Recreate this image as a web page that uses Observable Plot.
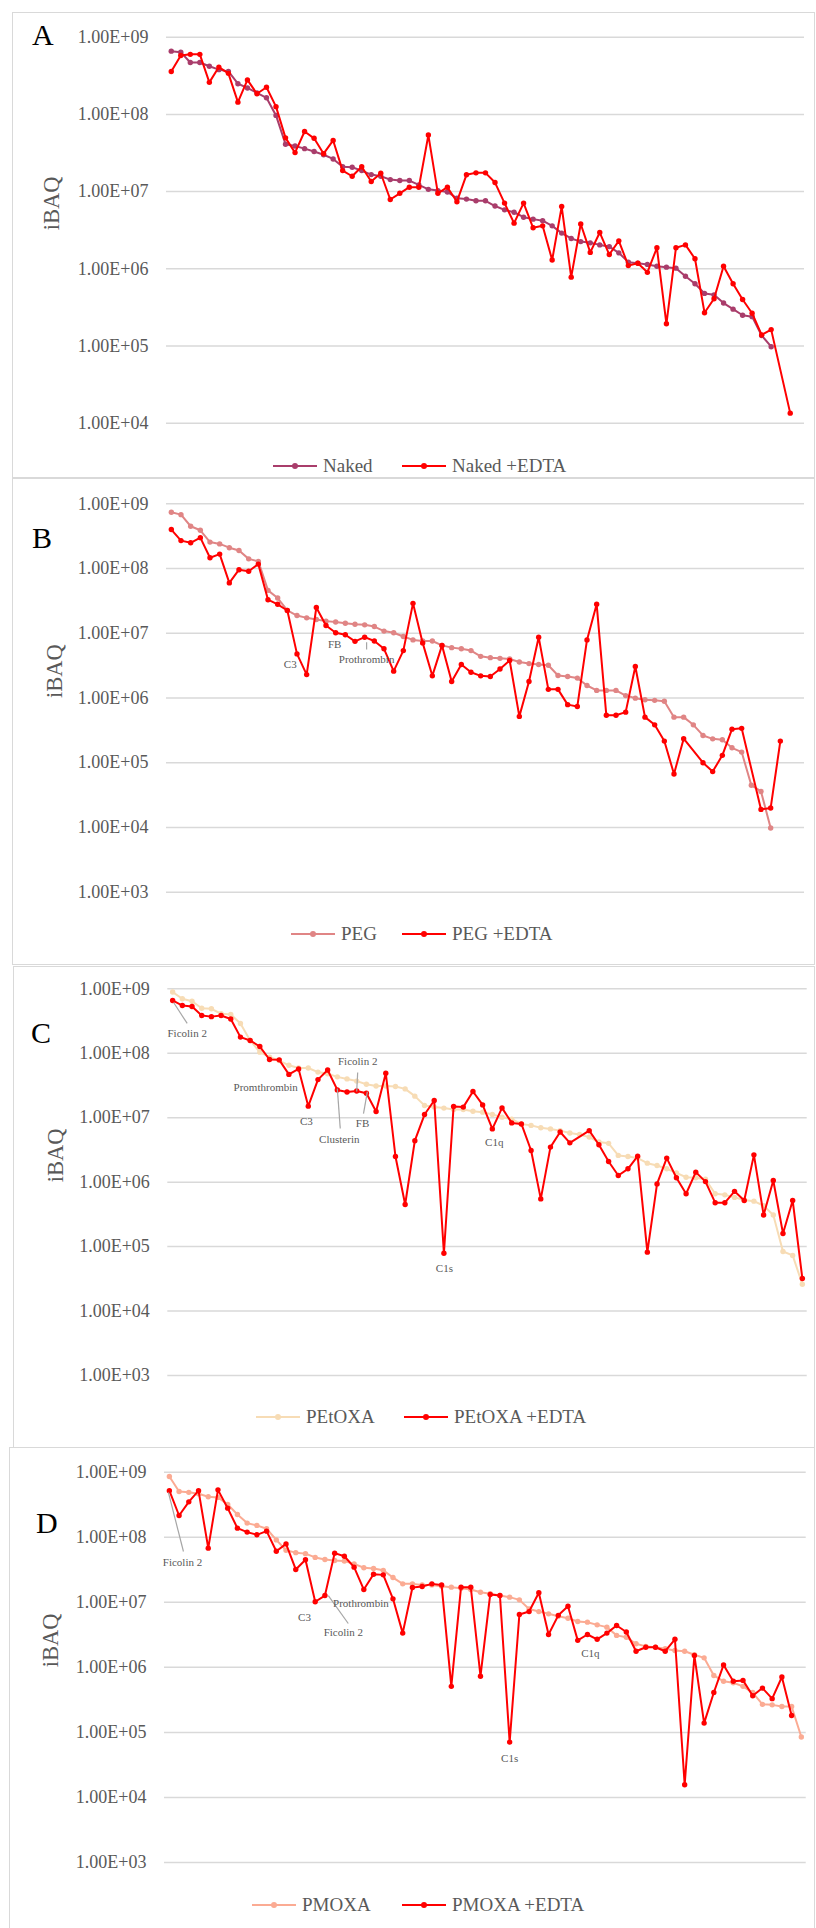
<!DOCTYPE html>
<html>
<head>
<meta charset="utf-8">
<script src="https://cdn.jsdelivr.net/npm/d3@7"></script>
<script src="https://cdn.jsdelivr.net/npm/@observablehq/plot@0.6"></script>
<style>
  html, body { margin: 0; padding: 0; background: #fff; }
  #page { position: relative; width: 816px; height: 1928px; overflow: hidden;
          font-family: "Liberation Serif", "DejaVu Serif", serif; }
  .box { position: absolute; border: 1.5px solid #d9d9d9; box-sizing: border-box; }
  .chart { position: absolute; left: 0; }
  .letter { position: absolute; font-size: 30px; line-height: 30px; color: #000; }
  .key { position: absolute; display: flex; align-items: center; height: 20px;
         font-size: 19px; color: #595959; white-space: nowrap; }
  .key svg { margin-right: 6px; }
</style>
</head>
<body>
<div id="page"></div>
<script>
// iBAQ intensities of the plasma proteins, ranked by abundance (index = rank).
// null = protein not detected in that sample.
const nakedIBAQ = [6.6e8, 6.4e8, 4.7e8, 4.7e8, 4.2e8, 3.8e8, 3.6e8, 2.5e8, 2.2e8, 1.9e8,
  1.64e8, 9.7e7, 4.1e7, 3.9e7, 3.6e7, 3.3e7, 3.0e7, 2.65e7, 2.1e7, 2.07e7,
  1.87e7, 1.66e7, 1.58e7, 1.43e7, 1.39e7, 1.39e7, 1.22e7, 1.07e7, 1.03e7, 9.9e6,
  8.2e6, 8.0e6, 7.6e6, 7.6e6, 6.5e6, 5.8e6, 5.4e6, 4.66e6, 4.4e6, 4.2e6,
  3.6e6, 2.9e6, 2.47e6, 2.25e6, 2.17e6, 2.04e6, 1.94e6, 1.61e6, 1.22e6, 1.18e6,
  1.14e6, 1.08e6, 1.05e6, 1.02e6, 8.0e5, 6.4e5, 4.8e5, 4.6e5, 3.6e5, 3.0e5,
  2.5e5, 2.4e5, 1.37e5, 9.8e4];
const nakedEdtaIBAQ = [3.6e8, 5.8e8, 6.0e8, 6.0e8, 2.6e8, 4.1e8, 3.4e8, 1.44e8, 2.8e8, 1.85e8,
  2.25e8, 1.26e8, 4.97e7, 3.2e7, 6.0e7, 4.9e7, 3.1e7, 4.6e7, 1.87e7, 1.58e7,
  2.1e7, 1.35e7, 1.73e7, 7.9e6, 9.5e6, 1.14e7, 1.14e7, 5.4e7, 9.5e6, 1.14e7,
  7.4e6, 1.65e7, 1.75e7, 1.75e7, 1.31e7, 7.1e6, 3.9e6, 7.1e6, 3.4e6, 3.6e6,
  1.3e6, 6.4e6, 7.8e5, 3.8e6, 1.63e6, 2.95e6, 1.53e6, 2.3e6, 1.1e6, 1.18e6,
  9.0e5, 1.87e6, 1.94e5, 1.87e6, 2.04e6, 1.35e6, 2.7e5, 4.1e5, 1.08e6, 6.4e5,
  4.0e5, 2.66e5, 1.39e5, 1.63e5, null, 1.35e4];

const pegIBAQ = [7.4e8, 6.8e8, 4.5e8, 3.9e8, 2.56e8, 2.4e8, 2.1e8, 1.9e8, 1.41e8, 1.29e8,
  4.6e7, 3.5e7, 2.25e7, 1.88e7, 1.73e7, 1.63e7, 1.54e7, 1.49e7, 1.43e7, 1.38e7,
  1.35e7, 1.27e7, 1.08e7, 1.02e7, 8.9e6, 7.9e6, 7.6e6, 7.6e6, 6.5e6, 6.0e6,
  5.75e6, 5.4e6, 4.4e6, 4.2e6, 4.1e6, 4.0e6, 3.6e6, 3.4e6, 3.3e6, 3.2e6,
  2.23e6, 2.15e6, 2.03e6, 1.56e6, 1.31e6, 1.31e6, 1.31e6, 1.09e6, 9.95e5, 9.4e5,
  9.2e5, 8.9e5, 5.06e5, 5.06e5, 3.85e5, 2.64e5, 2.34e5, 2.26e5, 1.7e5, 1.46e5,
  4.5e4, 3.6e4, 9.8e3];
const pegEdtaIBAQ = [4.0e8, 2.7e8, 2.5e8, 3.0e8, 1.47e8, 1.67e8, 6.0e7, 9.6e7, 9.1e7, 1.17e8,
  3.3e7, 2.8e7, 2.25e7, 4.8e6, 2.3e6, 2.5e7, 1.32e7, 1.02e7, 9.5e6, 7.5e6,
  8.7e6, 7.6e6, 5.75e6, 2.6e6, 5.4e6, 2.9e7, 7.1e6, 2.2e6, 6.5e6, 1.8e6,
  3.3e6, 2.5e6, 2.2e6, 2.15e6, 2.8e6, 3.8e6, 5.2e5, 1.8e6, 8.7e6, 1.36e6,
  1.36e6, 7.9e5, 7.4e5, 7.9e6, 2.8e7, 5.4e5, 5.4e5, 6.05e5, 3.07e6, 5.06e5,
  3.85e5, 2.16e5, 6.7e4, 2.35e5, null, 1.0e5, 7.3e4, 1.3e5, 3.3e5, 3.4e5,
  null, 1.9e4, 2.0e4, 2.16e5];

const petoxaIBAQ = [8.9e8, 7.0e8, 6.4e8, 5.0e8, 4.9e8, 4.1e8, 4.0e8, 2.9e8, 1.58e8, 1.04e8,
  8.7e7, 7.7e7, 6.5e7, 5.9e7, 5.9e7, 5.1e7, 4.8e7, 4.3e7, 4.0e7, 3.7e7,
  3.3e7, 3.1e7, 3.1e7, 3.05e7, 2.8e7, 2.16e7, 1.55e7, 1.46e7, 1.41e7, 1.34e7,
  1.34e7, 1.26e7, 1.22e7, 1.12e7, 1.02e7, 9.5e6, 8.0e6, 7.6e6, 7.0e6, 6.7e6,
  6.3e6, 5.8e6, 5.5e6, 5.0e6, 4.2e6, 4.0e6, 2.6e6, 2.5e6, 2.36e6, 1.97e6,
  1.81e6, 1.61e6, 1.39e6, 1.19e6, 1.17e6, 1.11e6, 6.6e5, 6.35e5, 5.8e5, 5.3e5,
  5.07e5, 4.3e5, 3.1e5, 8.4e4, 7.3e4, 2.6e4];
const petoxaEdtaIBAQ = [6.6e8, 5.5e8, 5.3e8, 3.85e8, 3.7e8, 3.85e8, 3.4e8, 1.78e8, 1.58e8, 1.27e8,
  8.0e7, 7.9e7, 4.7e7, 5.7e7, 1.51e7, 3.9e7, 5.5e7, 2.7e7, 2.5e7, 2.6e7,
  2.4e7, 1.25e7, 4.9e7, 2.5e6, 4.5e5, 4.4e6, 1.12e7, 1.85e7, 7.9e4, 1.49e7,
  1.46e7, 2.55e7, 1.58e7, 6.7e6, 1.42e7, 8.3e6, 8.0e6, 3.1e6, 5.5e5, 3.5e6,
  6.0e6, 4.07e6, null, 6.3e6, 3.8e6, 2.09e6, 1.27e6, 1.61e6, 2.53e6, 8.2e4,
  9.4e5, 2.36e6, 1.17e6, 6.6e5, 1.43e6, 1.02e6, 4.8e5, 4.8e5, 7.2e5, 5.2e5,
  2.65e6, 3.1e5, 1.06e6, 1.6e5, 5.2e5, 3.2e4];

const pmoxaIBAQ = [8.6e8, 5.05e8, 4.9e8, 4.65e8, 4.2e8, 4.1e8, 3.2e8, 2.24e8, 1.65e8, 1.52e8,
  1.35e8, 9.1e7, 6.3e7, 5.8e7, 5.6e7, 4.9e7, 4.55e7, 4.4e7, 4.3e7, 3.9e7,
  3.4e7, 3.3e7, 3.1e7, 2.4e7, 1.92e7, 1.92e7, 1.85e7, 1.85e7, 1.77e7, 1.71e7,
  1.65e7, 1.57e7, 1.43e7, 1.35e7, 1.27e7, 1.2e7, 1.09e7, 7.9e6, 7.2e6, 6.65e6,
  6.1e6, 5.7e6, 5.07e6, 4.95e6, 4.5e6, 4.15e6, 3.1e6, 2.9e6, 2.3e6, 2.1e6,
  2.04e6, 1.93e6, 1.82e6, 1.77e6, 1.56e6, 1.4e6, 7.5e5, 6.1e5, 5.8e5, 5.1e5,
  4.1e5, 2.7e5, 2.65e5, 2.5e5, 2.5e5, 8.5e4];
const pmoxaEdtaIBAQ = [5.2e8, 2.16e8, 3.5e8, 5.2e8, 6.8e7, 5.35e8, 2.8e8, 1.38e8, 1.2e8, 1.09e8,
  1.24e8, 6.1e7, 7.9e7, 3.2e7, 4.5e7, 1.02e7, 1.27e7, 5.7e7, 5.1e7, 3.47e7,
  1.57e7, 2.7e7, 2.64e7, 1.13e7, 3.36e6, 1.69e7, 1.75e7, 1.92e7, 1.85e7, 5.1e5,
  1.71e7, 1.71e7, 7.3e5, 1.32e7, 1.27e7, 7.1e4, 6.5e6, 7.2e6, 1.4e7, 3.2e6,
  6.3e6, 8.7e6, 2.6e6, 3.2e6, 2.7e6, 3.36e6, 4.4e6, 3.5e6, 1.77e6, 2.04e6,
  2.04e6, 1.77e6, 2.7e6, 1.57e4, 1.52e6, 1.39e5, 4.1e5, 1.09e6, 6.1e5, 6.3e5,
  3.65e5, 4.8e5, 3.3e5, 7.1e5, 1.82e5];

// Y-axis tick values (log scale)
const ticksA = [1e4, 1e5, 1e6, 1e7, 1e8, 1e9];
const ticksBCD = [1e3, 1e4, 1e5, 1e6, 1e7, 1e8, 1e9];

// Protein call-outs: label placed at (rank, iBAQ)
const notesB = [
  {label: "C3", rank: 12.3, iBAQ: 3.29e6},
  {label: "FB", rank: 16.9, iBAQ: 6.7e6},
  {label: "Prothrombin", rank: 20.2, iBAQ: 3.94e6}
];
const leadersB = [
  {r1: 20.2, v1: 7.28e6, r2: 20.2, v2: 5.62e6}
];
const notesC = [
  {label: "Ficolin 2", rank: 1.5, iBAQ: 2.02e8},
  {label: "Promthrombin", rank: 9.6, iBAQ: 2.94e7},
  {label: "C3", rank: 13.8, iBAQ: 8.73e6},
  {label: "Clusterin", rank: 17.2, iBAQ: 4.59e6},
  {label: "Ficolin 2", rank: 19.1, iBAQ: 7.45e7},
  {label: "FB", rank: 19.6, iBAQ: 8.11e6},
  {label: "C1s", rank: 28.05, iBAQ: 4.57e4},
  {label: "C1q", rank: 33.2, iBAQ: 4.12e6}
];
const leadersC = [
  {r1: 0.1, v1: 6.12e8, r2: 1.5, v2: 2.9e8},
  {r1: 17.0, v1: 2.83e7, r2: 17.3, v2: 6.79e6},
  {r1: 19.1, v1: 5.02e7, r2: 19.0, v2: 2.55e7},
  {r1: 20.1, v1: 2.54e7, r2: 19.7, v2: 1.16e7}
];
const notesD = [
  {label: "Ficolin 2", rank: 1.35, iBAQ: 4.09e7},
  {label: "C3", rank: 13.9, iBAQ: 5.83e6},
  {label: "Prothrombin", rank: 19.7, iBAQ: 9.59e6},
  {label: "Ficolin 2", rank: 17.9, iBAQ: 3.44e6},
  {label: "C1s", rank: 35.0, iBAQ: 3.97e4},
  {label: "C1q", rank: 43.3, iBAQ: 1.63e6}
];
const leadersD = [
  {r1: -0.1, v1: 4.88e8, r2: 1.45, v2: 6.04e7},
  {r1: 16.35, v1: 1.27e7, r2: 18.4, v2: 4.72e6}
];

// ---- layout & styling of the four stacked panels ----
const RED = "#ff0000";
const panels = [
  {letter: "A", base: nakedIBAQ, edta: nakedEdtaIBAQ, baseName: "Naked", edtaName: "Naked +EDTA",
   color: "#a93d6b", ticks: ticksA, n: 67, notes: [], leaders: [],
   top: 0, height: 478, mt: 36.7, mb: 55.3, ml: 166, mr: 12, labelDx: -114.5,
   box: {top: 12, height: 466, left: 12}, letterPos: {left: 32, top: 20},
   key: {y: 466, x1: 273, x2: 402}},
  {letter: "B", base: pegIBAQ, edta: pegEdtaIBAQ, baseName: "PEG", edtaName: "PEG +EDTA",
   color: "#e08585", ticks: ticksBCD, n: 66, notes: notesB, leaders: leadersB,
   top: 478, height: 488, mt: 25.3, mb: 74.3, ml: 166, mr: 12, labelDx: -112,
   box: {top: 478, height: 487, left: 12}, letterPos: {left: 32, top: 523},
   key: {y: 934, x1: 291, x2: 402}},
  {letter: "C", base: petoxaIBAQ, edta: petoxaEdtaIBAQ, baseName: "PEtOXA", edtaName: "PEtOXA +EDTA",
   color: "#f7dcb5", ticks: ticksBCD, n: 66, notes: notesC, leaders: leadersC,
   top: 966, height: 482, mt: 22.3, mb: 73, ml: 167.3, mr: 9.3, labelDx: -112.3,
   box: {top: 966, height: 482, left: 13}, letterPos: {left: 31, top: 1018},
   key: {y: 1417, x1: 256, x2: 404}},
  {letter: "D", base: pmoxaIBAQ, edta: pmoxaEdtaIBAQ, baseName: "PMOXA", edtaName: "PMOXA +EDTA",
   color: "#fbab93", ticks: ticksBCD, n: 66, notes: notesD, leaders: leadersD,
   top: 1448, height: 480, mt: 23.7, mb: 66, ml: 164, mr: 10.3, labelDx: -114,
   box: {top: 1447, height: 490, left: 9}, letterPos: {left: 36, top: 1508},
   key: {y: 1905, x1: 252, x2: 402}}
];

const page = document.getElementById("page");
const sci = d => `1.00E+${String(Math.round(Math.log10(d))).padStart(2, "0")}`;
const ranked = arr => arr.map((v, i) => ({rank: i, iBAQ: v})).filter(d => d.iBAQ != null);

function swatch(color) {
  const ns = "http://www.w3.org/2000/svg";
  const svg = document.createElementNS(ns, "svg");
  svg.setAttribute("width", 44); svg.setAttribute("height", 10);
  const l = document.createElementNS(ns, "line");
  l.setAttribute("x1", 0); l.setAttribute("x2", 44); l.setAttribute("y1", 5); l.setAttribute("y2", 5);
  l.setAttribute("stroke", color); l.setAttribute("stroke-width", 2);
  const c = document.createElementNS(ns, "circle");
  c.setAttribute("cx", 22); c.setAttribute("cy", 5); c.setAttribute("r", 3); c.setAttribute("fill", color);
  svg.append(l, c);
  return svg;
}

for (const p of panels) {
  const box = document.createElement("div");
  box.className = "box";
  Object.assign(box.style, {left: p.box.left + "px", top: p.box.top + "px",
    width: (815 - p.box.left) + "px", height: p.box.height + "px"});
  page.append(box);

  const base = ranked(p.base), edta = ranked(p.edta);
  const chart = Plot.plot({
    width: 816, height: p.height,
    marginTop: p.mt, marginBottom: p.mb, marginLeft: p.ml, marginRight: p.mr,
    style: {fontFamily: '"Liberation Serif", "DejaVu Serif", serif', fontSize: "18px",
            color: "#595959", background: "transparent", overflow: "visible"},
    x: {type: "linear", domain: [-0.5, p.n - 0.5], axis: null},
    y: {type: "log", domain: [p.ticks[0], p.ticks[p.ticks.length - 1]], axis: null},
    marks: [
      Plot.gridY(p.ticks, {stroke: "#d9d9d9", strokeOpacity: 1, strokeWidth: 1.5}),
      Plot.axisY(p.ticks, {tickSize: 0, tickPadding: 18, tickFormat: sci, label: null,
                           fontSize: 18, fill: "#595959"}),
      Plot.text(["iBAQ"], {frameAnchor: "left", dx: p.labelDx, rotate: -90,
                           fontSize: 22.5, fill: "#595959"}),
      Plot.line(base, {x: "rank", y: "iBAQ", stroke: p.color, strokeWidth: 2}),
      Plot.dot(base, {x: "rank", y: "iBAQ", r: 2.7, fill: p.color}),
      Plot.line(edta, {x: "rank", y: "iBAQ", stroke: RED, strokeWidth: 2}),
      Plot.dot(edta, {x: "rank", y: "iBAQ", r: 2.7, fill: RED}),
      Plot.link(p.leaders, {x1: "r1", y1: "v1", x2: "r2", y2: "v2",
                            stroke: "#a6a6a6", strokeWidth: 1.2}),
      Plot.text(p.notes, {x: "rank", y: "iBAQ", text: "label", fontSize: 11, fill: "#595959"})
    ]
  });
  chart.classList.add("chart");
  chart.style.top = p.top + "px";
  page.append(chart);

  const letter = document.createElement("div");
  letter.className = "letter";
  letter.textContent = p.letter;
  letter.style.left = p.letterPos.left + "px";
  letter.style.top = p.letterPos.top + "px";
  page.append(letter);

  [[p.key.x1, p.color, p.baseName], [p.key.x2, RED, p.edtaName]].forEach(([x, color, name]) => {
    const key = document.createElement("div");
    key.className = "key";
    key.style.left = x + "px";
    key.style.top = (p.key.y - 10) + "px";
    key.append(swatch(color), document.createTextNode(name));
    page.append(key);
  });
}
</script>
</body>
</html>
